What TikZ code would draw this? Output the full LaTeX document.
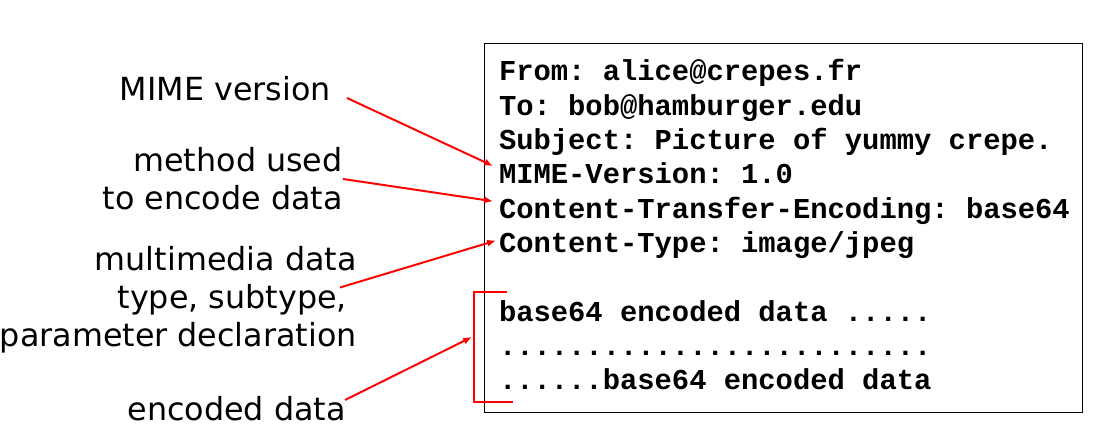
\documentclass[tikz,border=0pt]{standalone}
\usepackage{fontspec}
\setmainfont{DejaVu Sans}
\newfontfamily\mailfont{Liberation Mono}
\usetikzlibrary{arrows.meta}
\frenchspacing

\begin{document}
\begin{tikzpicture}[x=0.025cm,y=-0.025cm,
    mailline/.style={anchor=north west,inner sep=0pt,outer sep=0pt,text height=17.4pt,text depth=7pt,
        font=\mailfont\bfseries\fontsize{20.5}{24.4}\selectfont},
    note/.style={anchor=east,align=right,inner sep=0pt,font=\fontsize{22.6}{27.2}\selectfont},
    pointer/.style={-{Latex[length=2.2mm,width=1.8mm]},red,line width=1.4pt}]
    \useasboundingbox (0,0) rectangle (1105,439);

    % the message
    \node[draw,line width=0.9pt,inner sep=0pt,anchor=north west,
        minimum width=14.95cm,minimum height=9.225cm] (mailbox) at (484,43) {};
    \node[mailline,anchor=base west] (from) at (499,81) {From: alice@crepes.fr};
    \node[mailline] (to)   at (from.south west) {To: bob@hamburger.edu};
    \node[mailline] (subj) at (to.south west)   {Subject: Picture of yummy crepe.};
    \node[mailline] (mime) at (subj.south west) {MIME-Version: 1.0};
    \node[mailline] (cte)  at (mime.south west) {Content-Transfer-Encoding: base64};
    \node[mailline] (ct)   at (cte.south west)  {Content-Type: image/jpeg};
    \node[mailline] (gap)  at (ct.south west)   {};
    \node[mailline] (data) at (gap.south west)  {base64 encoded data .....};
    \node[mailline] (dots) at (data.south west) {.........................};
    \node[mailline] (tail) at (dots.south west) {......base64 encoded data};

    % the notes
    \node[note] (mimever) at (331,89)    {MIME version};
    \node[note] (method)  at (343,179)   {method used\\to encode data};
    \node[note] (mmtype)  at (357,299.5) {multimedia data\\type, subtype,\rule{7pt}{0pt}\\parameter declaration};
    \node[note] (encdata) at (346,409)   {encoded data};

    % bracket round the data
    \coordinate (brtop) at (474,292);
    \coordinate (brbot) at (474,402);
    \coordinate (bracetip) at (472,337);
    \draw[red,line width=1.4pt] (507,292) -- (brtop) -- (brbot) -- (513,402);

    \draw[pointer] ([shift={(16,9)}]mimever.east) -- ([shift={(-6,-18)}]mime.base west);
    \draw[pointer] (method.east) -- ([shift={(-6,-17)}]cte.base west);
    \draw[pointer] ([shift={(-17,-12)}]mmtype.east) -- ([shift={(-3,-12)}]ct.base west);
    \draw[pointer] ([shift={(-1,-9)}]encdata.east) -- (bracetip);
\end{tikzpicture}
\end{document}
